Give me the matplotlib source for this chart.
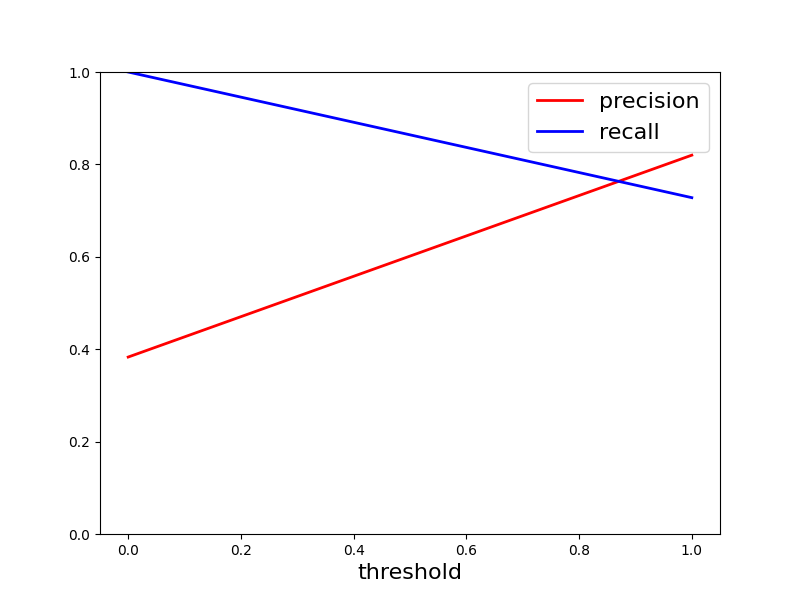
import matplotlib
matplotlib.use("Agg")
import matplotlib.pyplot as plt

thresholds = [0.0, 1.0]
precision = [0.383, 0.820]
recall = [1.0, 0.728]

fig = plt.figure(figsize=(8, 6), dpi=100)
plt.plot(thresholds, precision, "r-", linewidth=2, label="precision")
plt.plot(thresholds, recall, "b-", linewidth=2, label="recall")
plt.xlabel("threshold", fontsize=16)
plt.legend(loc="upper right", fontsize=16)
plt.ylim([0, 1])
fig.savefig("out.png", dpi=100)
